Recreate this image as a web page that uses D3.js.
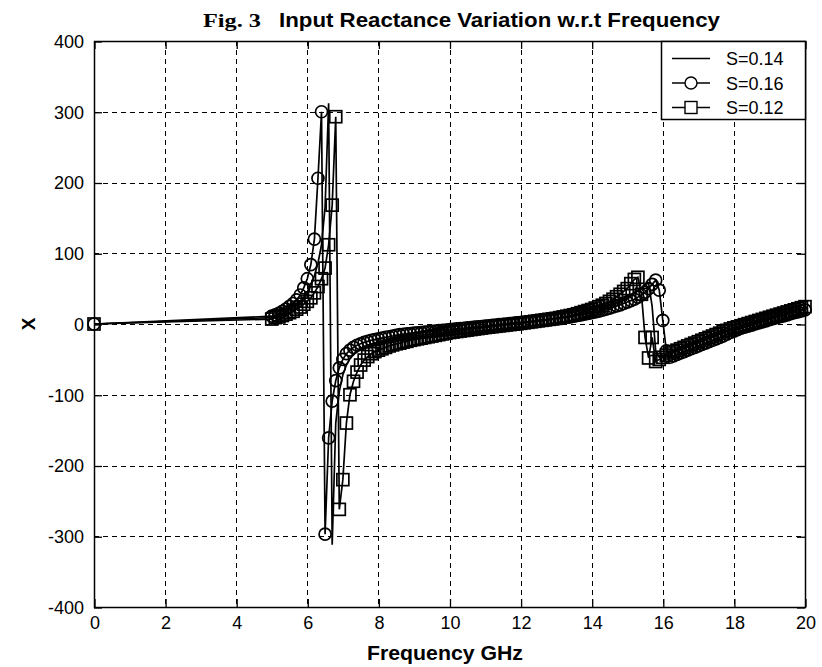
<!DOCTYPE html>
<html>
<head>
<meta charset="utf-8">
<script src="https://cdn.jsdelivr.net/npm/d3@7"></script>
<style>
  html, body { margin: 0; padding: 0; background: #fff; }
  svg { display: block; }
  text { fill: #000; }
</style>
</head>
<body>
<svg id="chart" width="822" height="667"></svg>
<script>
// Frequency sweep (GHz): DC point, then 5.0 .. 20.0 GHz in 0.1 GHz steps
const freqGHz = [0, ...d3.range(50, 201).map(k => k / 10)];

// Input reactance X (ohm) for each strip spacing S
const reactS014 = [0,
  9, 11, 13, 15, 17, 20, 23, 27, 32, 38,
  45, 55, 68, 86, 112, 165, 312, -312, -140, -95,
  -72, -58, -49, -43, -38, -35, -32, -30, -28, -27,
  -26, -25, -24, -23, -22, -21, -20, -19, -18.5, -18,
  -17, -16.5, -16, -15, -14.5, -14, -13, -12.5, -12, -11,
  -10.5, -10, -9, -8.5, -8, -7, -6.5, -6, -5, -4.5,
  -4, -3, -2.5, -2, -1, -0.5, 0, 0.5, 1, 1.5,
  2, 2.5, 3, 3.5, 4, 5, 5.5, 6, 7, 7.5,
  8, 9, 10, 10.5, 11.5, 12.5, 13.5, 14.5, 15.5, 17,
  18, 19.5, 21, 22.5, 24, 26, 28, 30, 32, 34.5,
  37, 40, 43, 47, 51, 55, 58, 25, -38, -47,
  -45, -43, -41.5, -40, -38, -36, -34, -32, -30, -28,
  -26, -24, -22, -20, -18, -16, -14, -12.5, -11, -9,
  -7.5, -6, -4.5, -3, -1.5, 0, 1.5, 3, 4.5, 6,
  7.5, 9, 10.5, 12, 13, 14.5, 16, 17.5, 19, 20.5,
  22];

const reactS016 = [0,
  11, 13, 15, 18, 21, 25, 29, 34, 41, 51,
  64, 84, 120, 206, 300, -297, -161, -109, -80, -62,
  -50, -42, -37, -33, -30, -28, -26, -24.5, -23, -22,
  -21, -20, -19, -18, -17, -16, -15, -14.5, -14, -13.5,
  -13, -12.5, -12, -11.5, -11, -10.5, -10, -9.5, -9, -8.5,
  -8, -7.5, -7, -6.5, -6, -5.5, -5, -4.5, -4, -3.5,
  -3, -2.5, -2, -1.5, -1, -0.5, 0, 0.5, 1, 1.5,
  2, 2.5, 3, 3.5, 4, 4.5, 5, 5.5, 6, 7,
  7.5, 8, 9, 9.5, 10, 11, 12, 13, 14, 15,
  16, 17, 18, 19.5, 21, 22.5, 24, 25.5, 27, 29,
  31, 33, 35, 38, 41, 45, 50, 56, 62, 48,
  5, -38, -47, -45, -43, -41, -39, -37, -35, -33,
  -31, -29, -27, -25, -23, -21, -19, -17, -14.5, -12,
  -10, -8, -6, -4.5, -3, -1.5, 0, 1.5, 3, 4.5,
  6, 7.5, 9, 10.5, 11.5, 13, 14.5, 16, 17, 18.5,
  20];

const reactS012 = [0,
  7, 9, 10, 12, 14, 16, 18, 21, 24, 28,
  32, 37, 44, 53, 64, 79, 112, 168, 293, -262,
  -220, -140, -100, -81, -68, -58, -51, -46, -42, -39,
  -37, -35, -33, -31, -29.5, -28, -27, -25.5, -24.5, -23,
  -22, -21, -20, -19, -18, -17, -16, -15, -14, -13,
  -12, -11.3, -10.6, -9.9, -9.2, -8.5, -7.8, -7.1, -6.4, -5.7,
  -5, -4.4, -3.8, -3.2, -2.6, -2, -1.4, -0.8, -0.2, 0.4,
  1, 1.7, 2.4, 3.1, 3.8, 4.5, 5.2, 5.9, 6.6, 7.3,
  8, 9, 10, 11, 12, 13, 14.5, 16, 17.5, 19,
  20.5, 22.5, 24.5, 26.5, 29, 32, 35, 38.5, 42, 46,
  50, 57, 63, 66, 42, -19, -48, -19, -53, -50,
  -47, -44, -41, -39, -37, -35, -33, -31, -29, -27,
  -25, -23, -21, -19, -17, -15, -13, -11, -9, -7,
  -5.5, -4, -2.5, -1, 0.5, 2, 3.5, 5, 6.5, 8,
  9.5, 11, 12.5, 14, 15.5, 17, 18.5, 20, 21.5, 23,
  24.5];

const seriesLabels = ["S=0.14", "S=0.16", "S=0.12"];
const seriesMarkers = ["none", "circle", "square"];
const xTickValues = [0, 2, 4, 6, 8, 10, 12, 14, 16, 18, 20];
const yTickValues = [-400, -300, -200, -100, 0, 100, 200, 300, 400];

const titlePrefix = "Fig. 3";
const titleText = "Input Reactance Variation w.r.t Frequency";
const xLabel = "Frequency GHz";
const yLabel = "X";

// ---- layout ----
const box = { left: 94, right: 805, top: 41, bottom: 607 };
const x = d3.scaleLinear().domain([0, 20]).range([box.left, box.right]);
const y = d3.scaleLinear().domain([-400, 400]).range([box.bottom, box.top]);
const snap = v => Math.round(v) + 0.5;
const plainNumber = d => String(d);   // ASCII hyphen for negatives

const svg = d3.select("#chart");
svg.append("rect").attr("width", 822).attr("height", 667).attr("fill", "#fff");

const tickFont = "'Liberation Sans', Arial, sans-serif";
const narrowBold = "'Liberation Sans Narrow', 'Arial Narrow', 'Liberation Sans', sans-serif";

// dashed grid
const grid = svg.append("g")
  .attr("stroke", "#000").attr("stroke-width", 1)
  .attr("stroke-dasharray", "5,4").attr("shape-rendering", "crispEdges");
grid.selectAll("line.gx").data(xTickValues.slice(1, -1)).join("line")
  .attr("class", "gx")
  .attr("x1", d => snap(x(d))).attr("x2", d => snap(x(d)))
  .attr("y1", box.top).attr("y2", box.bottom);
grid.selectAll("line.gy").data(yTickValues.slice(1, -1)).join("line")
  .attr("class", "gy")
  .attr("y1", d => snap(y(d))).attr("y2", d => snap(y(d)))
  .attr("x1", box.left).attr("x2", box.right);

// axes with inward ticks on all four sides
function styleAxis(g, showLabels) {
  g.select(".domain").remove();
  g.selectAll(".tick line").attr("stroke", "#000").attr("stroke-width", 1.3);
  g.selectAll(".tick text")
    .attr("font-family", tickFont).attr("font-size", 18).attr("fill", "#000");
  if (!showLabels) g.selectAll(".tick text").remove();
}
svg.append("g").attr("transform", `translate(0.5,${snap(y(-400)) - 0.5})`)
  .call(d3.axisBottom(x).tickValues(xTickValues).tickSize(-8).tickPadding(9).tickFormat(plainNumber))
  .call(g => styleAxis(g, true));
svg.append("g").attr("transform", `translate(0.5,${snap(y(400)) - 0.5})`)
  .call(d3.axisTop(x).tickValues(xTickValues).tickSize(-8))
  .call(g => styleAxis(g, false));
svg.append("g").attr("transform", `translate(${snap(x(0)) - 0.5},0.5)`)
  .call(d3.axisLeft(y).tickValues(yTickValues).tickSize(-8).tickPadding(10).tickFormat(plainNumber))
  .call(g => styleAxis(g, true));
svg.append("g").attr("transform", `translate(${snap(x(20)) - 0.5},0.5)`)
  .call(d3.axisRight(y).tickValues(yTickValues).tickSize(-8))
  .call(g => styleAxis(g, false));

// plot frame
svg.append("rect")
  .attr("x", snap(x(0))).attr("y", snap(y(400)))
  .attr("width", Math.round(x(20)) - Math.round(x(0)))
  .attr("height", Math.round(y(-400)) - Math.round(y(400)))
  .attr("fill", "none").attr("stroke", "#000").attr("stroke-width", 1.5);

// data series
const allSeries = [reactS014, reactS016, reactS012].map((vals, i) => ({
  label: seriesLabels[i],
  marker: seriesMarkers[i],
  points: freqGHz.map((f, k) => ({ f, v: vals[k] }))
}));

const clipId = "plotClip";
svg.append("clipPath").attr("id", clipId).append("rect")
  .attr("x", box.left - 8).attr("y", box.top)
  .attr("width", box.right - box.left + 16).attr("height", box.bottom - box.top);

const line = d3.line().x(d => x(d.f)).y(d => y(d.v));
const markerR = 6, squareSide = 12;
const dataStroke = 1.7;

function drawMarker(sel, kind) {
  if (kind === "circle") {
    sel.append("circle").attr("r", markerR);
  } else if (kind === "square") {
    sel.append("rect")
      .attr("x", -squareSide / 2).attr("y", -squareSide / 2)
      .attr("width", squareSide).attr("height", squareSide);
  }
}

const dataLayer = svg.append("g").attr("clip-path", `url(#${clipId})`);
allSeries.forEach(s => {
  const g = dataLayer.append("g");
  g.append("path").datum(s.points)
    .attr("d", line).attr("fill", "none")
    .attr("stroke", "#000").attr("stroke-width", dataStroke);
  if (s.marker !== "none") {
    const m = g.append("g").attr("fill", "none").attr("stroke", "#000").attr("stroke-width", dataStroke);
    s.points.forEach(p => {
      const mg = m.append("g").attr("transform", `translate(${x(p.f)},${y(p.v)})`);
      drawMarker(mg, s.marker);
    });
  }
});

// legend
const lg = svg.append("g");
const lgBox = { x: 661.5, y: snap(y(400)), w: Math.round(x(20)) + 0.5 - 661.5, h: 78 };
lg.append("rect").attr("x", lgBox.x).attr("y", lgBox.y)
  .attr("width", lgBox.w).attr("height", lgBox.h)
  .attr("fill", "#fff").attr("stroke", "#000").attr("stroke-width", 1.5);
allSeries.forEach((s, i) => {
  const cy = lgBox.y + 17 + i * 24.5;
  const row = lg.append("g");
  row.append("line").attr("x1", 672).attr("x2", 710).attr("y1", cy).attr("y2", cy)
    .attr("stroke", "#000").attr("stroke-width", 1.4);
  const mg = row.append("g").attr("transform", `translate(691,${cy})`)
    .attr("fill", "#fff").attr("stroke", "#000").attr("stroke-width", 1.4);
  drawMarker(mg, s.marker);
  row.append("text").attr("x", 726).attr("y", cy + 6.5)
    .attr("font-family", tickFont).attr("font-size", 18)
    .text(s.label);
});

// title
svg.append("text").attr("x", 203).attr("y", 27)
  .attr("font-family", "'Liberation Serif', 'Times New Roman', serif")
  .attr("font-weight", "bold").attr("font-size", 19)
  .attr("textLength", 58).attr("lengthAdjust", "spacingAndGlyphs")
  .text(titlePrefix);
svg.append("text").attr("x", 279).attr("y", 27)
  .attr("font-family", narrowBold)
  .attr("font-weight", "bold").attr("font-size", 21)
  .attr("textLength", 441).attr("lengthAdjust", "spacingAndGlyphs")
  .text(titleText);

// axis labels
svg.append("text").attr("x", 445).attr("y", 660)
  .attr("text-anchor", "middle")
  .attr("font-family", narrowBold)
  .attr("font-weight", "bold").attr("font-size", 20)
  .attr("textLength", 156).attr("lengthAdjust", "spacingAndGlyphs")
  .text(xLabel);
svg.append("text")
  .attr("transform", `translate(35,${y(0)}) rotate(-90)`)
  .attr("text-anchor", "middle")
  .attr("font-family", tickFont).attr("font-weight", "bold").attr("font-size", 19)
  .text(yLabel);
</script>
</body>
</html>
